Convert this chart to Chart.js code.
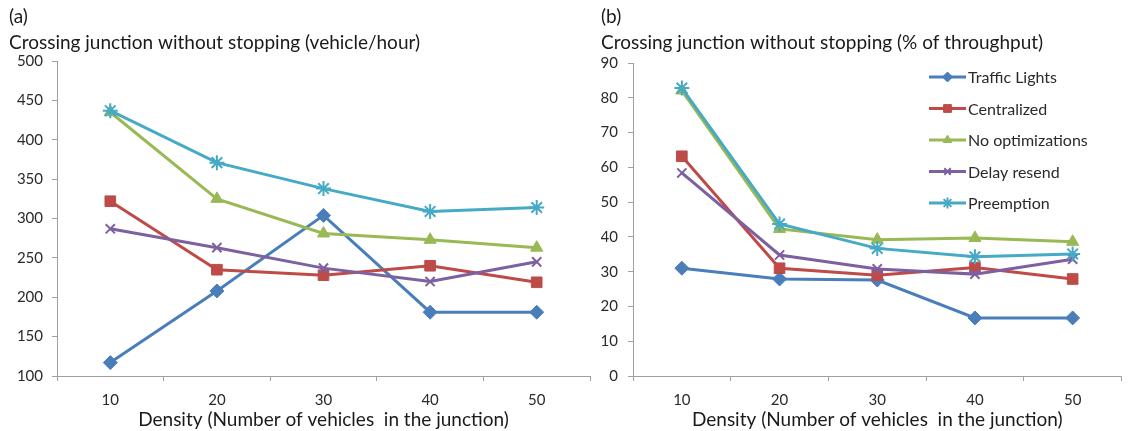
<!DOCTYPE html>
<html>
<head>
<meta charset="utf-8">
<script src="https://cdn.jsdelivr.net/npm/chart.js@4"></script>
<style>
  html, body { margin: 0; padding: 0; background: #fff; }
  #wrap { position: relative; width: 1131px; height: 431px; overflow: hidden; }
  #chartA { position: absolute; left: 0; top: 0; }
  #chartB { position: absolute; left: 600px; top: 0; }
</style>
</head>
<body>
<div id="wrap">
  <canvas id="chartA" width="600" height="431"></canvas>
  <canvas id="chartB" width="531" height="431"></canvas>
</div>
<script>

const densities = ['10', '20', '30', '40', '50'];
const seriesNames = ['Traffic Lights', 'Centralized', 'No optimizations', 'Delay resend', 'Preemption'];

// (a) vehicle/hour
const trafficLightsA = [117, 208, 304, 181, 181];
const centralizedA = [322, 235, 228, 240, 219];
const noOptimizationsA = [435, 325, 281, 273, 263];
const delayResendA = [287, 263, 237, 220, 245];
const preemptionA = [437, 371, 338, 309, 314];

// (b) % of throughput
const trafficLightsB = [31, 27.9, 27.6, 16.7, 16.7];
const centralizedB = [63.2, 31, 29, 31.2, 27.9];
const noOptimizationsB = [82.1, 42.3, 39.2, 39.7, 38.6];
const delayResendB = [58.4, 34.8, 30.8, 29.3, 33.6];
const preemptionB = [82.8, 43.7, 36.7, 34.3, 35.1];

const colors = ['#4a7ebb', '#be4b48', '#98b954', '#7d60a0', '#46aac5'];
const markers = ['rectRot', 'rect', 'triangle', 'crossRot', 'star'];
const markerSizes = [7, 7.5, 7, 6.5, 7.5];

const FONT = 'Lato, "Open Sans", sans-serif';
const AXIS = '#a0a0a0';
const TEXT = '#2a2a2a';

function makeDatasets(values) {

  return values.map((v, i) => ({
    label: seriesNames[i],
    data: v,
    borderColor: colors[i],
    backgroundColor: colors[i],
    borderWidth: 3,
    pointStyle: markers[i],
    pointRadius: markerSizes[i],
    pointBorderWidth: i >= 3 ? 2 : 1,
    pointBorderColor: colors[i],
    pointBackgroundColor: colors[i],
    tension: 0,
    // Excel draws later series on top
    order: values.length - i
  }));

}

// Legend drawn inside the plot, right side, one row per series
const insideLegend = {
  id: 'insideLegend',
  afterDraw(chart, args, opts) {

    if ( ! opts.show ) return;

    const ctx = chart.ctx;
    ctx.save();
    ctx.font = '16px ' + FONT;
    ctx.textBaseline = 'middle';

    chart.data.datasets.forEach((ds, i) => {

      const y = opts.top + i * opts.rowGap;

      ctx.strokeStyle = ds.borderColor;
      ctx.lineWidth = 3;
      ctx.beginPath();
      ctx.moveTo(opts.x, y);
      ctx.lineTo(opts.x + opts.lineLength, y);
      ctx.stroke();

      ctx.fillStyle = ds.backgroundColor;
      ctx.lineWidth = ds.pointBorderWidth;
      Chart.helpers.drawPoint(ctx, {
        pointStyle: ds.pointStyle,
        radius: ds.pointRadius - 2,
        rotation: 0,
        borderWidth: ds.pointBorderWidth
      }, opts.x + opts.lineLength / 2, y);

      ctx.fillStyle = TEXT;
      ctx.fillText(ds.label, opts.x + opts.lineLength + 2, y + 1);

    });

    ctx.restore();

  }
};

function makeChart(canvas, values, cfg) {

  return new Chart(canvas, {
    type: 'line',
    data: {
      labels: densities,
      datasets: makeDatasets(values)
    },
    plugins: [insideLegend],
    options: {
      responsive: false,
      animation: false,
      devicePixelRatio: 1,
      events: [],
      layout: {
        padding: { left: cfg.padLeft, right: cfg.padRight, top: 0, bottom: 0 }
      },
      scales: {
        x: {
          offset: true,
          grid: {
            offset: true,
            drawOnChartArea: false,
            tickLength: 5,
            color: AXIS
          },
          border: { display: true, color: AXIS, width: 1 },
          ticks: {
            padding: 10,
            color: TEXT,
            font: { family: FONT, size: 15 }
          },
          title: {
            display: true,
            text: 'Density (Number of vehicles  in the junction)',
            color: '#1a1a1a',
            font: { family: FONT, size: 19 },
            padding: { top: 0, bottom: 0 }
          },
          afterFit: scale => { scale.height = 55; }
        },
        y: {
          min: cfg.min,
          max: cfg.max,
          grid: {
            drawOnChartArea: false,
            tickLength: 5,
            color: AXIS
          },
          border: { display: true, color: AXIS, width: 1 },
          ticks: {
            stepSize: cfg.step,
            padding: cfg.tickPad,
            color: TEXT,
            font: { family: FONT, size: 15 }
          },
          afterFit: scale => { scale.width = cfg.yWidth; }
        }
      },
      plugins: {
        legend: { display: false },
        tooltip: { enabled: false },
        title: {
          display: true,
          align: 'start',
          text: cfg.title,
          color: '#1a1a1a',
          font: { family: FONT, size: 19, weight: 'normal', lineHeight: 1.37 },
          padding: { top: 4, bottom: cfg.titleGap }
        },
        insideLegend: cfg.legend
      }
    }
  });

}

makeChart(document.getElementById('chartA'),
  [trafficLightsA, centralizedA, noOptimizationsA, delayResendA, preemptionA], {
    title: ['(a)', 'Crossing junction without stopping (vehicle/hour)'],
    min: 100, max: 500, step: 50,
    padLeft: 9, padRight: 10, yWidth: 48, tickPad: 9, titleGap: 5,
    legend: { show: false }
  });

makeChart(document.getElementById('chartB'),
  [trafficLightsB, centralizedB, noOptimizationsB, delayResendB, preemptionB], {
    title: ['(b)', 'Crossing junction without stopping (% of throughput)'],
    min: 0, max: 90, step: 10,
    padLeft: 1, padRight: -29, yWidth: 32, tickPad: 10, titleGap: 7,
    legend: { show: true, x: 329, lineLength: 37, top: 77, rowGap: 31.5 }
  });

</script>
</body>
</html>
